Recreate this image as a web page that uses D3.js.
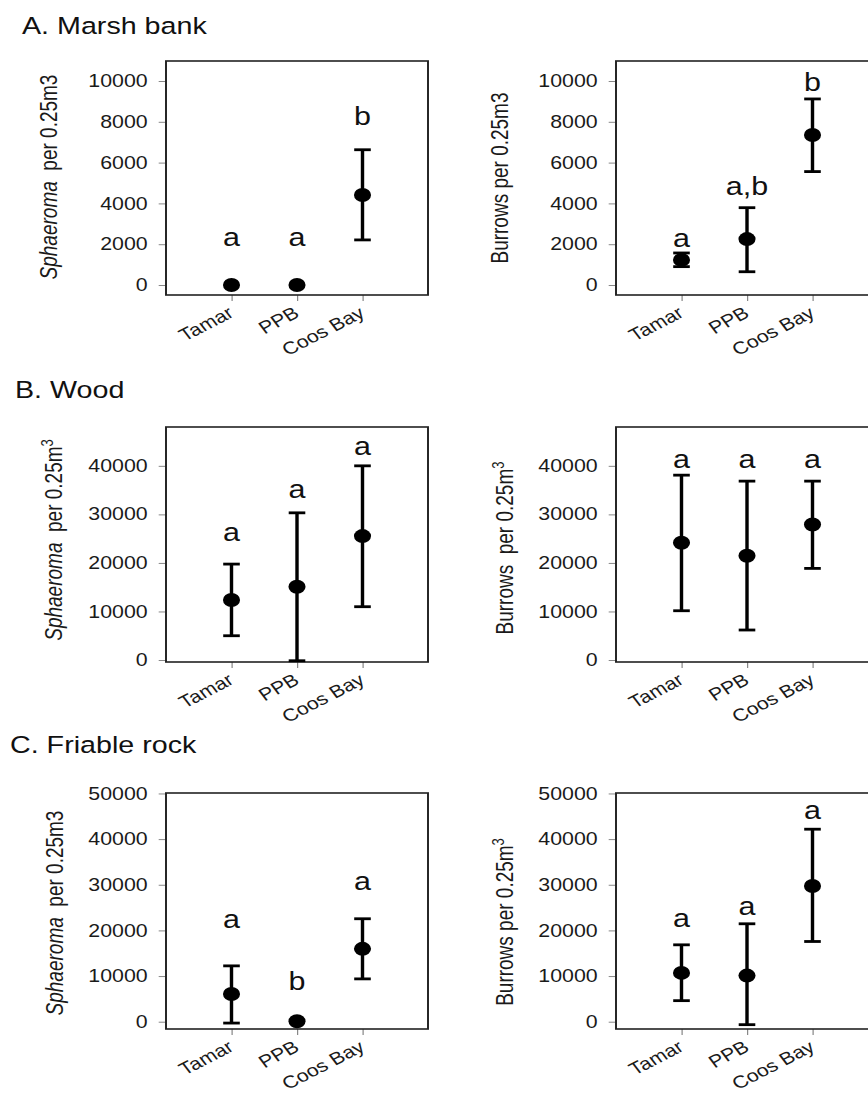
<!DOCTYPE html>
<html>
<head>
<meta charset="utf-8">
<script src="https://cdn.jsdelivr.net/npm/d3@7"></script>
<style>
  body { margin: 0; background: #fff; }
  svg { display: block; }
  text { white-space: pre; }
</style>
</head>
<body>
<script>
// sites along every x axis
const sites = ["Tamar", "PPB", "Coos Bay"];

// y tick values and axis extents for each row
const ticksA = [0, 2000, 4000, 6000, 8000, 10000];
const ticksB = [0, 10000, 20000, 30000, 40000];
const ticksC = [0, 10000, 20000, 30000, 40000, 50000];
const domainA = [-490, 10980];
const domainB = [-410, 48000];
const domainC = [-1600, 50100];

// A. Marsh bank - Sphaeroma
const marshSphMean = [0, 0, 4410];
const marshSphLow = [null, null, 2210];
const marshSphHigh = [null, null, 6630];
const marshSphLetters = ["a", "a", "b"];
const marshSphLetterAt = [1900, 1900, 7840];

// A. Marsh bank - burrows
const marshBurMean = [1230, 2250, 7350];
const marshBurLow = [900, 650, 5560];
const marshBurHigh = [1570, 3790, 9120];
const marshBurLetters = ["a", "a,b", "b"];
const marshBurLetterAt = [1850, 4410, 9520];

// B. Wood - Sphaeroma
const woodSphMean = [12350, 15090, 25530];
const woodSphLow = [5000, -150, 10980];
const woodSphHigh = [19760, 30320, 40000];
const woodSphLetters = ["a", "a", "a"];
const woodSphLetterAt = [24500, 33290, 42200];

// B. Wood - burrows
const woodBurMean = [24150, 21470, 27930];
const woodBurLow = [10150, 6180, 18870];
const woodBurHigh = [38080, 36850, 36850];
const woodBurLetters = ["a", "a", "a"];
const woodBurLetterAt = [39460, 39460, 39460];

// C. Friable rock - Sphaeroma
const rockSphMean = [6080, 100, 15960];
const rockSphLow = [-300, null, 9380];
const rockSphHigh = [12230, null, 22550];
const rockSphLetters = ["a", "b", "a"];
const rockSphLetterAt = [20460, 6940, 28850];

// C. Friable rock - burrows
const rockBurMean = [10690, 10100, 29730];
const rockBurLow = [4610, -650, 17570];
const rockBurHigh = [16840, 21450, 42170];
const rockBurLetters = ["a", "a", "a"];
const rockBurLetterAt = [20800, 23370, 44330];

const FONT = "'Liberation Sans', Arial, Helvetica, sans-serif";
const SX = 1.22;   // the figure is stretched sideways
const W = 868, H = 1094;
const frameW = 262;
const px = (v) => v / SX;

const svg = d3.select("body").append("svg")
  .attr("width", W)
  .attr("height", H)
  .attr("font-family", FONT);
const root = svg.append("g").attr("transform", `scale(${SX},1)`);

function rows(mean, low, high, letters, letterAt) {
  return sites.map((s, i) => ({
    site: s, mean: mean[i], low: low[i], high: high[i],
    letter: letters[i], letterAt: letterAt[i]
  }));
}

const panels = [
  { left: 166, top: 61, bottom: 295, domain: domainA, ticks: ticksA, kind: "sph", sup: false,
    labelX: 57, labelY: 177, data: rows(marshSphMean, marshSphLow, marshSphHigh, marshSphLetters, marshSphLetterAt) },
  { left: 616, top: 61, bottom: 295, domain: domainA, ticks: ticksA, kind: "bur", sup: false,
    labelX: 508, labelY: 178, data: rows(marshBurMean, marshBurLow, marshBurHigh, marshBurLetters, marshBurLetterAt) },
  { left: 166, top: 427, bottom: 662, domain: domainB, ticks: ticksB, kind: "sph", sup: true,
    labelX: 62, labelY: 540, data: rows(woodSphMean, woodSphLow, woodSphHigh, woodSphLetters, woodSphLetterAt) },
  { left: 616, top: 427, bottom: 662, domain: domainB, ticks: ticksB, kind: "bur2", sup: true,
    labelX: 513, labelY: 548, data: rows(woodBurMean, woodBurLow, woodBurHigh, woodBurLetters, woodBurLetterAt) },
  { left: 166, top: 793, bottom: 1029, domain: domainC, ticks: ticksC, kind: "sph", sup: false,
    labelX: 63, labelY: 913, data: rows(rockSphMean, rockSphLow, rockSphHigh, rockSphLetters, rockSphLetterAt) },
  { left: 616, top: 793, bottom: 1029, domain: domainC, ticks: ticksC, kind: "bur", sup: true,
    labelX: 513, labelY: 922, data: rows(rockBurMean, rockBurLow, rockBurHigh, rockBurLetters, rockBurLetterAt) }
];

const titles = [
  { text: "A. Marsh bank", x: 22, y: 34 },
  { text: "B. Wood", x: 15, y: 398 },
  { text: "C. Friable rock", x: 10, y: 753 }
];

root.selectAll(".title")
  .data(titles)
  .enter()
  .append("text")
    .attr("class", "title")
    .attr("x", (d) => px(d.x))
    .attr("y", (d) => d.y)
    .attr("font-size", 23.5)
    .attr("fill", "#111")
    .text((d) => d.text);

panels.forEach(drawPanel);

function drawPanel(p) {
  const g = root.append("g");

  const x = d3.scalePoint()
    .domain(sites)
    .range([px(p.left), px(p.left + frameW)])
    .padding(1);

  const y = d3.scaleLinear()
    .domain(p.domain)
    .range([p.bottom, p.top]);

  // y axis, ticks outside the frame
  const yAxis = g.append("g")
    .attr("transform", `translate(${px(p.left)},0)`)
    .call(d3.axisLeft(y).tickValues(p.ticks).tickSize(6).tickPadding(9).tickFormat(d3.format("d")));
  yAxis.attr("font-family", FONT).attr("font-size", 17.5);
  yAxis.select(".domain").remove();
  yAxis.selectAll("line").attr("stroke", "#888").attr("stroke-width", 1);
  yAxis.selectAll("text").attr("fill", "#1a1a1a");

  // x axis with slanted site names
  const xAxis = g.append("g")
    .attr("transform", `translate(0,${p.bottom})`)
    .call(d3.axisBottom(x).tickSize(6));
  xAxis.attr("font-family", FONT).attr("font-size", 17.5);
  xAxis.select(".domain").remove();
  xAxis.selectAll("line").attr("stroke", "#888").attr("stroke-width", 1);
  xAxis.selectAll("text")
    .attr("x", 0)
    .attr("y", 0)
    .attr("dy", null)
    .attr("fill", "#1a1a1a")
    .attr("text-anchor", "end")
    .attr("transform", `translate(${px(3)},21) rotate(-32)`);

  // frame
  g.append("rect")
    .attr("x", px(p.left))
    .attr("y", p.top)
    .attr("width", px(frameW))
    .attr("height", p.bottom - p.top)
    .attr("fill", "none")
    .attr("stroke", "#222")
    .attr("stroke-width", 1.6);

  const bars = p.data.filter((d) => d.low !== null);
  const capHalf = px(8.3);

  g.selectAll(".stem")
    .data(bars)
    .enter()
    .append("line")
      .attr("x1", (d) => x(d.site))
      .attr("x2", (d) => x(d.site))
      .attr("y1", (d) => y(d.low))
      .attr("y2", (d) => y(d.high))
      .attr("stroke", "#000")
      .attr("stroke-width", 2.8);

  ["low", "high"].forEach((k) => {
    g.selectAll(".cap-" + k)
      .data(bars)
      .enter()
      .append("line")
        .attr("x1", (d) => x(d.site) - capHalf)
        .attr("x2", (d) => x(d.site) + capHalf)
        .attr("y1", (d) => y(d[k]))
        .attr("y2", (d) => y(d[k]))
        .attr("stroke", "#000")
        .attr("stroke-width", 2.8);
  });

  g.selectAll(".dot")
    .data(p.data)
    .enter()
    .append("circle")
      .attr("cx", (d) => x(d.site))
      .attr("cy", (d) => y(d.mean))
      .attr("r", 7)
      .attr("fill", "#000");

  g.selectAll(".letter")
    .data(p.data)
    .enter()
    .append("text")
      .attr("x", (d) => x(d.site))
      .attr("y", (d) => y(d.letterAt))
      .attr("text-anchor", "middle")
      .attr("font-size", 25)
      .attr("fill", "#111")
      .text((d) => d.letter);

  // y axis title
  const lab = g.append("text")
    .attr("transform", `translate(${px(p.labelX)},${p.labelY}) rotate(-90)`)
    .attr("text-anchor", "middle")
    .attr("font-size", 19)
    .attr("fill", "#1a1a1a");
  if (p.kind === "sph") {
    lab.append("tspan").attr("font-style", "italic").text("Sphaeroma");
    lab.append("tspan").text("  per 0.25m");
  } else if (p.kind === "bur2") {
    lab.append("tspan").text("Burrows  per 0.25m");
  } else {
    lab.append("tspan").text("Burrows per 0.25m");
  }
  if (p.sup) {
    lab.append("tspan").attr("font-size", 13).attr("dy", -7).text("3");
  } else {
    lab.append("tspan").text("3");
  }
}
</script>
</body>
</html>
